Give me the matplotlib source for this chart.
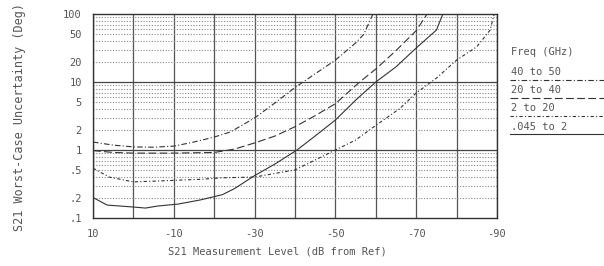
import matplotlib
matplotlib.use("Agg")
import matplotlib.pyplot as plt
from matplotlib.lines import Line2D

# ---- data ----
c4050_x = [10, 5, 0, -5, -10, -15, -20, -24, -30, -35, -40, -45, -50, -55, -57, -59.3]
c4050_y = [1.31, 1.18, 1.11, 1.1, 1.14, 1.31, 1.55, 1.84, 2.96, 4.9, 8.3, 13.2, 21, 37.5, 50, 100]

c2040_x = [10, 5, 0, -10, -20, -25, -30, -35, -40, -45, -50, -56, -60, -65, -70, -72.7]
c2040_y = [0.98, 0.92, 0.9, 0.9, 0.92, 1.03, 1.27, 1.6, 2.2, 3.2, 4.8, 10, 15.5, 29, 57, 100]

c220_x = [10, 6, 0, -6, -11, -16.5, -22, -30, -40, -50, -55, -60, -66, -70, -75, -80, -85, -88.3, -89.3]
c220_y = [0.54, 0.4, 0.34, 0.35, 0.36, 0.37, 0.39, 0.4, 0.51, 1.0, 1.4, 2.3, 4.1, 6.9, 11.4, 21, 33, 58, 100]

c0452_x = [10, 6.5, 0, -3, -6, -11, -16.5, -22, -25, -30, -35, -40.5, -45, -50, -55, -60, -65, -70, -75, -76.6]
c0452_y = [0.2, 0.155, 0.145, 0.14, 0.15, 0.16, 0.184, 0.22, 0.27, 0.42, 0.62, 1.0, 1.61, 2.76, 5.4, 10, 16.7, 31.6, 58, 100]

series_labels = ["40 to 50", "20 to 40", "2 to 20", ".045 to 2"]
legend_title = "Freq (GHz)"
xtick_vals = [10, -10, -30, -50, -70, -90]
xtick_labels = ["10", "-10", "-30", "-50", "-70", "-90"]
ytick_vals = [0.1, 0.2, 0.5, 1, 2, 5, 10, 20, 50, 100]
ytick_labels = [".1", ".2", ".5", "1", "2", "5", "10", "20", "50", "100"]

# ---- styling ----
W, H = 604, 266
fig = plt.figure(figsize=(W / 100, H / 100), dpi=100)
L, R, T, B = 93, 497, 14, 218
ax = fig.add_axes([L / W, 1 - B / H, (R - L) / W, (B - T) / H])

FONT = "DejaVu Sans Mono"
TC = "#555555"
FS = 7.5

ax.set_yscale("log")
ax.set_xlim(10, -90)
ax.set_ylim(0.1, 100)

# grid
for xv in range(10, -91, -10):
    ax.axvline(xv, color="#555555", lw=0.9, zorder=1)
for dec in [0.1, 1, 10]:
    for m in range(2, 10):
        ax.axhline(dec * m, color="#888888", lw=0.8, ls=(0, (1, 1.5)), zorder=1)
for yv in [1, 10]:
    ax.axhline(yv, color="#444444", lw=0.9, zorder=1)

styles = [(0, (5, 2, 1, 2)), (0, (7, 3)), (0, (3, 2, 1, 2)), "-"]
data = [(c4050_x, c4050_y), (c2040_x, c2040_y), (c220_x, c220_y), (c0452_x, c0452_y)]
for (xs, ys), st in zip(data, styles):
    ax.plot(xs, ys, color="#333333", lw=0.8, ls=st, zorder=3)

ax.set_xticks(xtick_vals)
ax.set_xticklabels(xtick_labels)
ax.set_yticks(ytick_vals)
ax.set_yticklabels(ytick_labels)
ax.minorticks_off()
ax.tick_params(length=0, labelsize=FS, labelcolor=TC)
ax.tick_params(axis="y", pad=8)
ax.tick_params(axis="x", pad=8)
for lab in ax.get_xticklabels() + ax.get_yticklabels():
    lab.set_family(FONT)
for s in ax.spines.values():
    s.set_color("#333333")
    s.set_linewidth(1.0)

fig.text(277 / W, 1 - 252 / H, "S21 Measurement Level (dB from Ref)",
         ha="center", va="center", fontsize=FS, color=TC, family=FONT)
fig.text(20 / W, 1 - 117 / H, "S21 Worst-Case Uncertainty (Deg)",
         ha="center", va="center", rotation=90, fontsize=8.5, color=TC, family=FONT)

# legend
fig.text(511 / W, 1 - 52 / H, legend_title, ha="left", va="center",
         fontsize=FS, color=TC, family=FONT)
text_y = [72, 90, 108, 127]
line_y = [80, 98, 116, 134]
for lab, ty, ly, st in zip(series_labels, text_y, line_y, styles):
    fig.text(511 / W, 1 - ty / H, lab, ha="left", va="center",
             fontsize=FS, color=TC, family=FONT)
    fig.add_artist(Line2D([510 / W, 604 / W], [1 - ly / H, 1 - ly / H],
                          transform=fig.transFigure, color="#333333", lw=0.8, ls=st))

fig.savefig("out.png", dpi=100)
